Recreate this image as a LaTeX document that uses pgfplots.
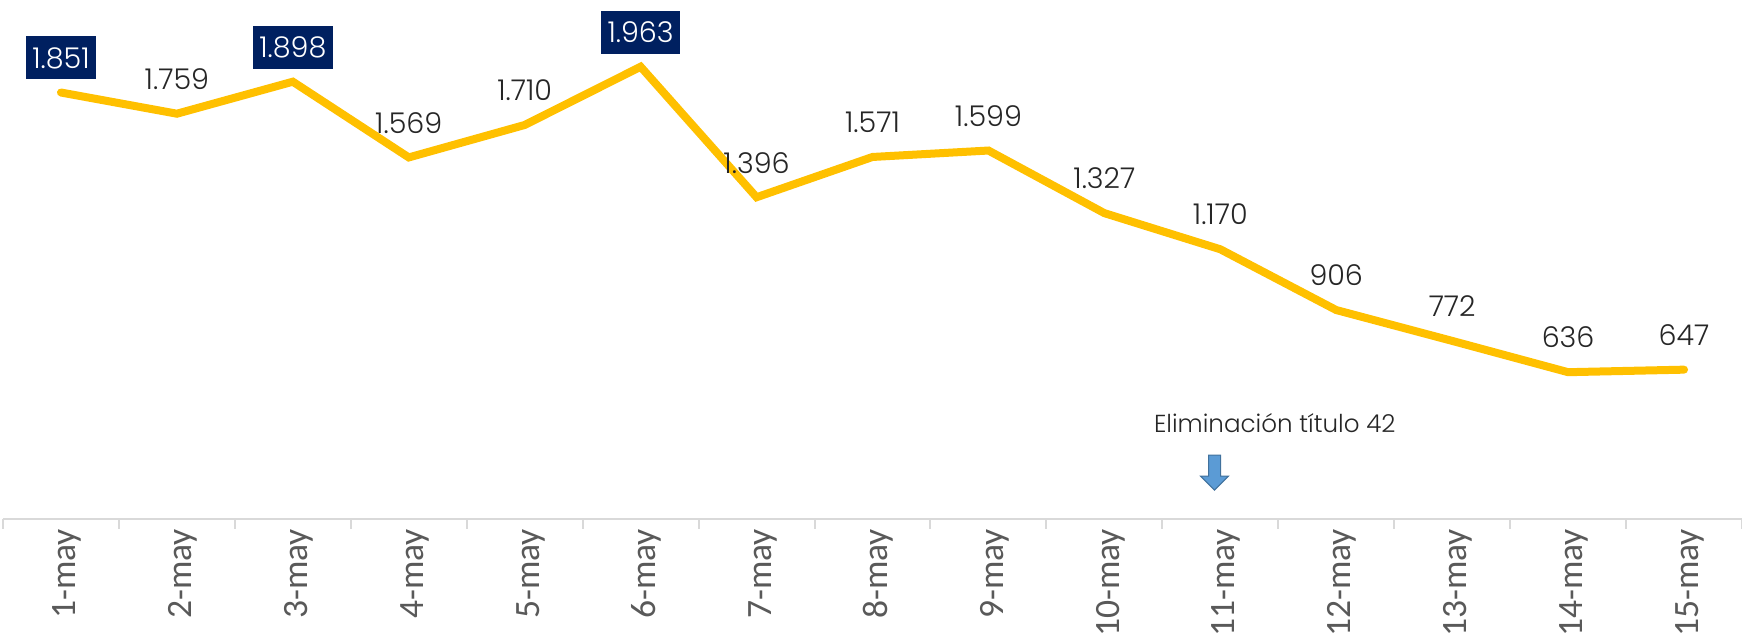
\documentclass[border=0pt]{standalone}
\usepackage{fontspec}
\usepackage{pgfplots}
\pgfplotsset{compat=1.18}
\setmainfont{Carlito}
\newfontfamily\labfont{Poppins}[UprightFont=* Light]
\definecolor{linegold}{HTML}{FFC000}
\definecolor{navy}{HTML}{002060}
\definecolor{txt}{HTML}{262626}
\definecolor{ticktxt}{HTML}{595959}
\definecolor{arrfill}{HTML}{5B9BD5}
\definecolor{arrdraw}{HTML}{41719C}
\begin{document}
\begin{tikzpicture}
\begin{axis}[
  at={(0,0)}, anchor=south west,
  scale only axis, width=869.5pt, height=259.3pt,
  xmin=-0.5, xmax=14.5, ymin=0, ymax=2253,
  hide y axis,
  axis x line*=bottom,
  x axis line style={draw=black!15, line width=1pt},
  xtick={0,...,14},
  xticklabels={1-may,2-may,3-may,4-may,5-may,6-may,7-may,8-may,9-may,10-may,11-may,12-may,13-may,14-may,15-may},
  major tick length=0pt,
  xticklabel style={rotate=90, anchor=east, font=\fontsize{17.8}{21}\selectfont, text=ticktxt, yshift=-3pt, inner sep=5pt},
  extra x ticks={-0.5,0.5,1.5,2.5,3.5,4.5,5.5,6.5,7.5,8.5,9.5,10.5,11.5,12.5,13.5,14.5},
  extra x tick labels={},
  extra x tick style={major tick length=5pt, tick align=outside, tick style={draw=black!15, line width=1pt}},
  clip=false,
]
\addplot[linegold, line width=4pt, line cap=round, line join=miter] coordinates {
(0,1851) (1,1759) (2,1898) (3,1569) (4,1710) (5,1963) (6,1396) (7,1571) (8,1599) (9,1327) (10,1170) (11,906) (12,772) (13,636) (14,647)};
\addplot[draw=none, point meta=explicit symbolic, nodes near coords,
  every node near coord/.append style={anchor=center, yshift=17.3pt, font=\labfont\fontsize{14.3}{17}\selectfont, text=txt}]
  coordinates {
(1,1759) [1.759] (3,1569) [1.569] (4,1710) [1.710] (6,1396) [1.396] (7,1571) [1.571] (8,1599) [1.599] (9,1327) [1.327] (10,1170) [1.170] (11,906) [906] (12,772) [772] (13,636) [636] (14,647) [647]};
\addplot[draw=none, point meta=explicit symbolic, nodes near coords,
  every node near coord/.append style={anchor=center, yshift=17.3pt, font=\labfont\fontsize{14.3}{17}\selectfont, text=white, fill=navy, minimum height=21.5pt, inner xsep=3.3pt}]
  coordinates {
(0,1851) [1.851] (2,1898) [1.898] (5,1963) [1.963]};
\node[font=\labfont\fontsize{12.3}{14}\selectfont, text=txt] at (axis cs:10.47,415) {Eliminación título 42};
\draw[draw=arrdraw, fill=arrfill, line width=0.5pt]
  ([xshift=-3pt]axis cs:9.95,276) -- ([xshift=3pt]axis cs:9.95,276) -- ([xshift=3pt,yshift=-10.5pt]axis cs:9.95,276)
  -- ([xshift=7pt,yshift=-10.5pt]axis cs:9.95,276) -- ([yshift=-17.5pt]axis cs:9.95,276)
  -- ([xshift=-7pt,yshift=-10.5pt]axis cs:9.95,276) -- ([xshift=-3pt,yshift=-10.5pt]axis cs:9.95,276) -- cycle;
\end{axis}
\pgfresetboundingbox
\path (-1.5pt,-58.2pt) rectangle (869.5pt,259.3pt);
\end{tikzpicture}
\end{document}
